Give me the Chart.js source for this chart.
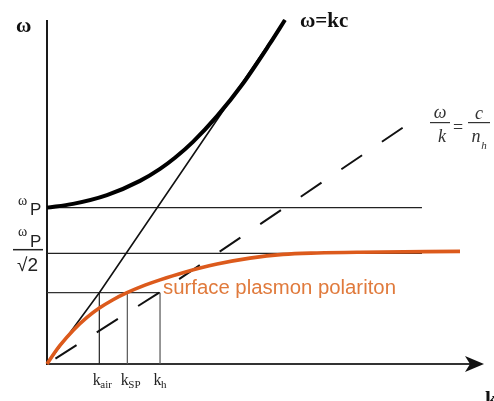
<!DOCTYPE html>
<html>
<head>
<meta charset="utf-8">
<script src="https://cdn.jsdelivr.net/npm/chart.js@4.4.0/dist/chart.umd.min.js"></script>
<style>
  html, body { margin: 0; padding: 0; background: #fff; }
</style>
</head>
<body>
<canvas id="disp" width="494" height="401"></canvas>
<script>
// bulk plasmon branch, starts at wp
var kBulk = [0, 0.239, 0.55, 0.853, 1.037, 1.174, 1.339, 1.56, 1.798, 2.046, 2.183];
var wBulk = [1.0, 1.024, 1.08, 1.171, 1.248, 1.319, 1.421, 1.585, 1.794, 2.05, 2.2];
// light line in air (w = kc)
var kLight = [0, 0.48, 2.183];
var wLight = [0, 0.456, 2.2];
// light line in the dielectric (w/k = c/n_h), dashed
var kDiel = [0, 1.037, 3.303];
var wDiel = [0, 0.46, 1.53];
// surface plasmon polariton branch
var kSpp = [0, 0.055, 0.119, 0.239, 0.367, 0.477, 0.606, 0.734, 0.899, 1.037, 1.248, 1.56, 1.862, 2.165, 2.477, 2.872, 3.789];
var wSpp = [0, 0.058, 0.119, 0.215, 0.298, 0.356, 0.411, 0.456, 0.504, 0.538, 0.584, 0.639, 0.677, 0.701, 0.71, 0.715, 0.72];
// levels and marked wavevectors
var wP = 1;
var wSurf = wP / Math.SQRT2;
var wMark = 0.456;
var kMarks = [0.48, 0.737, 1.037];
var kNames = ['air', 'SP', 'h'];
var kLevelEnd = 3.44;
var kMax = 4, wMax = 2.2;

function pts(xs, ys) {
  return xs.map(function (x, i) { return { x: x, y: ys[i] }; });
}

function guide(data, color) {
  return { data: data, showLine: true, borderColor: color, borderWidth: 1.2, pointRadius: 0, tension: 0, clip: false, order: 5 };
}

var datasets = [
  { data: pts(kSpp, wSpp), showLine: true, borderColor: '#dc5a1c', borderWidth: 3.6, pointRadius: 0, cubicInterpolationMode: 'monotone', clip: false, order: 0 },
  { data: pts(kBulk, wBulk), showLine: true, borderColor: '#000', borderWidth: 4, pointRadius: 0, cubicInterpolationMode: 'monotone', clip: false, order: 1 },
  { data: pts(kLight, wLight), showLine: true, borderColor: '#111', borderWidth: 1.6, pointRadius: 0, tension: 0, clip: false, order: 2 },
  { data: pts(kDiel, wDiel), showLine: true, borderColor: '#111', borderWidth: 2, borderDash: [25, 24], borderDashOffset: 39, pointRadius: 0, tension: 0, clip: false, order: 3 },
  guide([{ x: 0, y: wP }, { x: kLevelEnd, y: wP }], '#222'),
  guide([{ x: 0, y: wSurf }, { x: kLevelEnd, y: wSurf }], '#222'),
  guide([{ x: 0, y: wMark }, { x: kMarks[2], y: wMark }], '#333')
];
kMarks.forEach(function (k, i) {
  datasets.push(guide([{ x: k, y: 0 }, { x: k, y: wMark }], i == 0 ? '#222' : '#555'));
});

// axes with arrow on k
var axesPlugin = {
  id: 'axes',
  beforeDatasetsDraw: function (chart) {
    var ctx = chart.ctx, xs = chart.scales.x, ys = chart.scales.y;
    var x0 = xs.getPixelForValue(0), y0 = ys.getPixelForValue(0);
    var tip = xs.getPixelForValue(kMax) + 1;
    ctx.save();
    ctx.strokeStyle = '#1a1a1a';
    ctx.lineWidth = 2;
    ctx.beginPath();
    ctx.moveTo(x0, ys.getPixelForValue(wMax));
    ctx.lineTo(x0, y0 + 1);
    ctx.stroke();
    ctx.strokeStyle = '#333';
    ctx.beginPath();
    ctx.moveTo(x0, y0);
    ctx.lineTo(tip - 12, y0);
    ctx.stroke();
    ctx.fillStyle = '#111';
    ctx.beginPath();
    ctx.moveTo(tip, y0);
    ctx.lineTo(tip - 19, y0 - 8);
    ctx.lineTo(tip - 14, y0);
    ctx.lineTo(tip - 19, y0 + 8);
    ctx.closePath();
    ctx.fill();
    ctx.restore();
  }
};

// labels
var labelPlugin = {
  id: 'labels',
  afterDraw: function (chart) {
    var ctx = chart.ctx, xs = chart.scales.x, ys = chart.scales.y;
    var yp = ys.getPixelForValue(wP), ys2 = ys.getPixelForValue(wSurf);
    ctx.save();
    ctx.fillStyle = '#111';
    ctx.textAlign = 'left';
    ctx.textBaseline = 'alphabetic';

    ctx.font = 'bold 21px "Liberation Serif"';
    ctx.fillText('ω', 16, 32);
    ctx.fillText('ω=kc', 300, 27);
    ctx.fillText('k', 485, 406);

    // wp
    ctx.fillStyle = '#222';
    ctx.font = '14px "Liberation Serif"';
    ctx.fillText('ω', 18, yp - 3);
    ctx.font = '17px "Liberation Sans"';
    ctx.fillText('P', 30, yp + 7);
    // wp / sqrt2
    ctx.font = '14px "Liberation Serif"';
    ctx.fillText('ω', 18, ys2 - 17);
    ctx.font = '17px "Liberation Sans"';
    ctx.fillText('P', 30, ys2 - 6);
    ctx.fillRect(13, ys2 - 4.5, 30, 1.5);
    ctx.font = '19px "Liberation Sans"';
    ctx.fillText('√2', 17, ys2 + 18);

    // w/k = c/n_h
    ctx.fillStyle = '#333';
    ctx.textAlign = 'center';
    ctx.font = 'italic 18px "Liberation Serif"';
    ctx.fillText('ω', 440, 118);
    ctx.fillText('k', 442, 142);
    ctx.fillText('c', 479, 119);
    ctx.fillText('n', 476, 142);
    ctx.font = '18px "Liberation Serif"';
    ctx.fillText('=', 458, 133);
    ctx.font = 'italic 11px "Liberation Serif"';
    ctx.fillText('h', 484, 149);
    ctx.fillRect(430, 122, 20, 1.2);
    ctx.fillRect(468, 122, 22, 1.2);

    // marked wavevectors
    ctx.fillStyle = '#222';
    ctx.textAlign = 'left';
    kMarks.forEach(function (k, i) {
      var x = xs.getPixelForValue(k) - 6.5;
      ctx.font = '16px "Liberation Serif"';
      ctx.fillText('k', x, 385);
      var w = ctx.measureText('k').width;
      ctx.font = '11px "Liberation Serif"';
      ctx.fillText(kNames[i], x + w - 0.5, 388);
    });

    // branch name
    var txt = 'surface plasmon polariton';
    ctx.font = '17px "Liberation Sans"';
    var fs = 17 * 233 / ctx.measureText(txt).width;
    ctx.font = fs.toFixed(2) + 'px "Liberation Sans"';
    ctx.fillStyle = '#e07a3c';
    ctx.fillText(txt, 163, 294);
    ctx.restore();
  }
};

new Chart(document.getElementById('disp'), {
  type: 'scatter',
  data: { datasets: datasets },
  options: {
    responsive: false,
    animation: false,
    layout: { padding: { left: 47, right: 11, top: 20, bottom: 37 } },
    scales: {
      x: { type: 'linear', min: 0, max: kMax, display: false },
      y: { type: 'linear', min: 0, max: wMax, display: false }
    },
    plugins: { legend: { display: false }, tooltip: { enabled: false } },
    events: []
  },
  plugins: [axesPlugin, labelPlugin]
});
</script>
</body>
</html>
